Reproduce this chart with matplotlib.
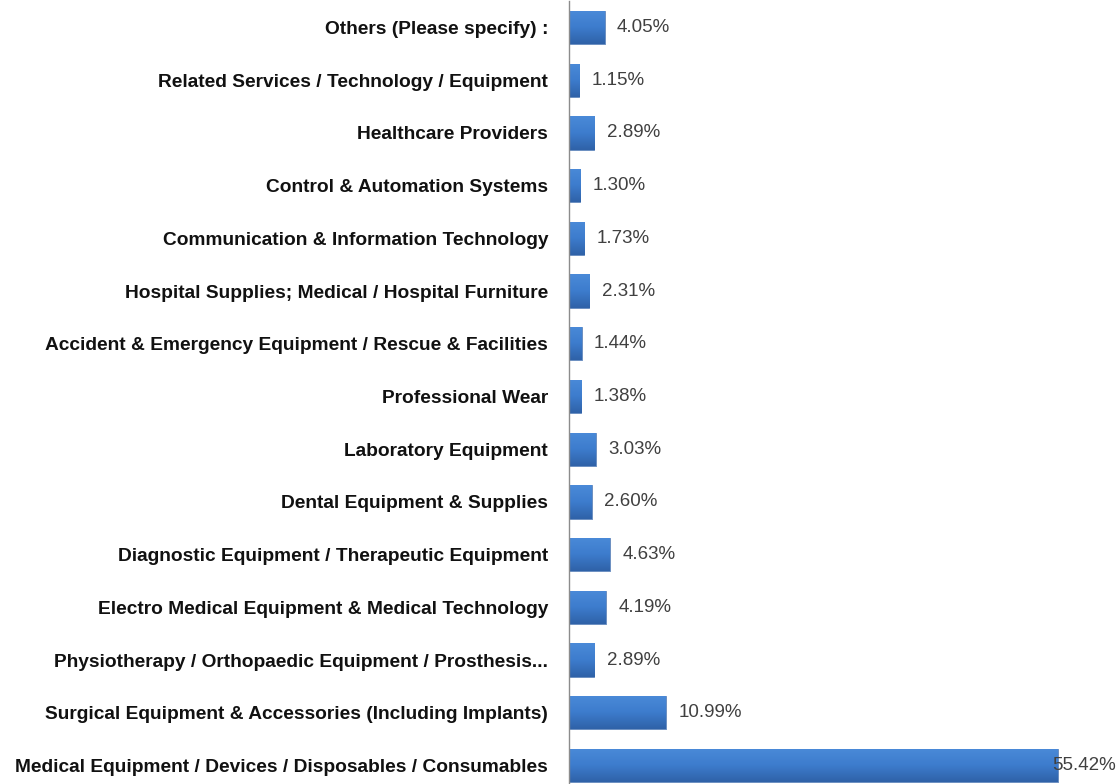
import numpy as np
import matplotlib.pyplot as plt
from matplotlib.colors import LinearSegmentedColormap

plt.rcParams['font.family'] = ['Liberation Sans', 'DejaVu Sans']

# categories, bottom to top
categories = [
    'Medical Equipment / Devices / Disposables / Consumables',
    'Surgical Equipment & Accessories (Including Implants)',
    'Physiotherapy / Orthopaedic Equipment / Prosthesis...',
    'Electro Medical Equipment & Medical Technology',
    'Diagnostic Equipment / Therapeutic Equipment',
    'Dental Equipment & Supplies',
    'Laboratory Equipment',
    'Professional Wear',
    'Accident & Emergency Equipment / Rescue & Facilities',
    'Hospital Supplies; Medical / Hospital Furniture',
    'Communication & Information Technology',
    'Control & Automation Systems',
    'Healthcare Providers',
    'Related Services / Technology / Equipment',
    'Others (Please specify) :',
]
values = [55.42, 10.99, 2.89, 4.19, 4.63, 2.60, 3.03, 1.38, 1.44, 2.31, 1.73, 1.30, 2.89, 1.15, 4.05]

fig = plt.figure(figsize=(11.2, 7.84), dpi=100)
ax = fig.add_axes([569 / 1120, -0.01, 1 - 569 / 1120, 1.0085])

y = np.arange(len(categories))
h = 0.63
bars = ax.barh(y, values, height=h, color='none', edgecolor='#2f62a8', linewidth=0.5)

# vertical gradient inside each bar (light on top, darker at bottom)
cmap = LinearSegmentedColormap.from_list('bar', ['#2f62a8', '#3d7ccd', '#4a8ad8'])
grad = np.linspace(0, 1, 64).reshape(-1, 1)
for b in bars:
    x0, y0 = b.get_x(), b.get_y()
    im = ax.imshow(grad, cmap=cmap, aspect='auto', origin='lower',
                   extent=[x0, x0 + b.get_width(), y0, y0 + b.get_height()], zorder=1)
    im.set_clip_path(b)

xmax = 62.5
ax.set_xlim(0, xmax)
ax.set_ylim(-0.5, len(categories) - 0.5)

for yi, v in zip(y, values):
    txt = f'{v:.2f}%'
    if v + 1.4 + 7 > xmax:
        ax.text(v - 0.6, yi, txt, va='center', ha='left', fontsize=13.5, color='#404040', clip_on=False)
    else:
        ax.text(v + 1.4, yi, txt, va='center', ha='left', fontsize=13.5, color='#404040')

ax.set_yticks(y)
ax.set_yticklabels(categories, fontsize=13.8, fontweight='bold', color='#111111')
ax.tick_params(axis='y', length=0, pad=15)
ax.set_xticks([])

for s in ['top', 'right', 'bottom']:
    ax.spines[s].set_visible(False)
ax.spines['left'].set_color('#8c8c8c')
ax.spines['left'].set_linewidth(1.0)

fig.savefig('out.png', dpi=100)
